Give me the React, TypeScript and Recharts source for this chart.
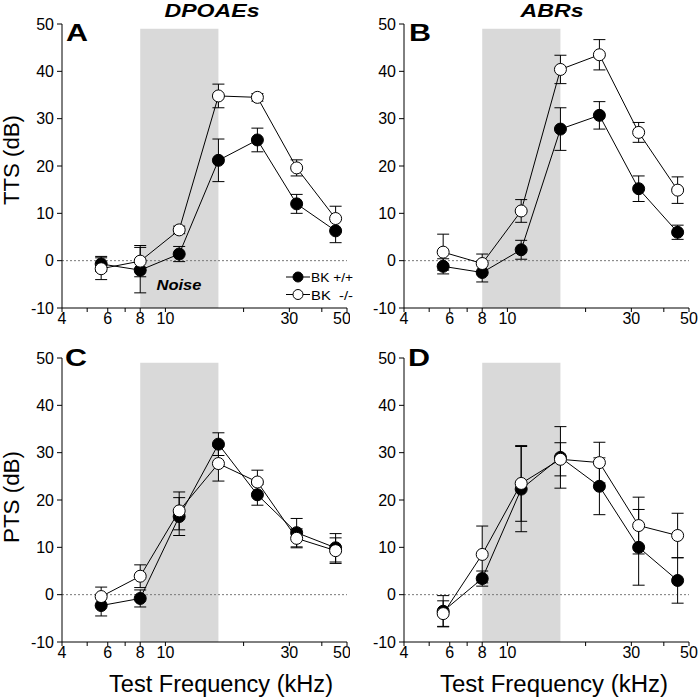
import React from 'react';
import { ComposedChart, Line, XAxis, YAxis, ReferenceArea, ReferenceLine, ErrorBar } from 'recharts';

// test frequencies (kHz), half-octave steps
const FREQ = [5.66, 8, 11.3, 16, 22.6, 32, 45.2];

// A: DPOAE TTS
const A_WT = [-0.7, -2.0, 1.4, 21.2, 25.5, 12.0, 6.3];
const A_WT_ERR = [1.6, 4.8, 1.6, 4.5, 2.5, 2.0, 2.5];
const A_KO = [-1.7, -0.1, 6.5, 34.8, 34.5, 19.6, 8.9];
const A_KO_ERR = [2.3, 3.3, 0.8, 2.5, 0.8, 1.7, 2.6];

// B: ABR TTS
const B_WT = [-1.2, -2.5, 2.3, 27.8, 30.7, 15.2, 6.0];
const B_WT_ERR = [1.6, 2.0, 2.0, 4.5, 2.9, 2.7, 1.5];
const B_KO = [1.8, -0.6, 10.5, 40.4, 43.5, 27.1, 14.9];
const B_KO_ERR = [3.8, 2.0, 2.4, 3.0, 3.2, 2.1, 2.8];

// C: DPOAE PTS
const C_WT = [-2.3, -0.8, 16.5, 31.8, 21.1, 13.1, 9.9];
const C_WT_ERR = [2.2, 1.8, 4.0, 2.4, 2.2, 3.0, 3.0];
const C_KO = [-0.4, 3.9, 17.7, 27.7, 23.8, 11.9, 9.3];
const C_KO_ERR = [2.0, 2.4, 4.0, 3.7, 2.5, 2.0, 2.7];

// D: ABR PTS
const D_WT = [-3.5, 3.4, 22.3, 29.0, 22.9, 10.0, 3.0];
const D_WT_ERR = [3.3, 1.6, 9.0, 6.5, 6.0, 8.0, 4.8];
const D_KO = [-4.0, 8.5, 23.5, 28.6, 27.9, 14.6, 12.5];
const D_KO_ERR = [2.7, 6.0, 8.0, 3.5, 4.3, 6.0, 4.7];

const X_TICKS = [4, 5, 6, 7, 8, 9, 10, 20, 30, 40, 50];
const X_LABELED = [4, 6, 8, 10, 30, 50];
const Y_TICKS = [-10, 0, 10, 20, 30, 40, 50];
const NOISE_BAND = [8, 16];
const LEGEND = ['BK +/+', 'BK  -/-'];

const FONT = '"Liberation Sans", Arial, sans-serif';

type PanelProps = {
  left: number;
  top: number;
  marginLeft: number;
  wt: number[];
  wtErr: number[];
  ko: number[];
  koErr: number[];
};

function Panel({ left, top, marginLeft, wt, wtErr, ko, koErr }: PanelProps) {
  const data = FREQ.map((f, i) => ({ f, wt: wt[i], wtErr: wtErr[i], ko: ko[i], koErr: koErr[i] }));
  return (
    <div style={{ position: 'absolute', left, top }}>
      <ComposedChart width={350} height={340} data={data}
        margin={{ top: 24, right: 350 - 285 - marginLeft - 40, bottom: 0, left: marginLeft }}>
        <ReferenceArea x1={NOISE_BAND[0]} x2={NOISE_BAND[1]} y1={-10} y2={49} fill="#d9d9d9" fillOpacity={1} stroke="none" />
        <ReferenceLine y={0} stroke="#777" strokeDasharray="2 2" strokeWidth={1} />
        <XAxis dataKey="f" type="number" scale="log" domain={[4, 50]} allowDataOverflow ticks={X_TICKS}
          tickFormatter={(v: number) => (X_LABELED.includes(v) ? String(v) : '')}
          height={32} tickSize={4} tickMargin={1} stroke="#000"
          tick={{ fill: '#000', fontSize: 16, fontFamily: FONT }} />
        <YAxis type="number" domain={[-10, 50]} ticks={Y_TICKS} width={40} tickSize={5} tickMargin={3}
          stroke="#000" tick={{ fill: '#000', fontSize: 16, fontFamily: FONT }} />
        <Line dataKey="wt" stroke="#000" strokeWidth={1} isAnimationActive={false}
          dot={{ r: 6, fill: '#000', stroke: '#000', strokeWidth: 1 }}>
          <ErrorBar dataKey="wtErr" width={6} stroke="#000" strokeWidth={1} direction="y" />
        </Line>
        <Line dataKey="ko" stroke="#000" strokeWidth={1} isAnimationActive={false}
          dot={{ r: 6, fill: '#fff', stroke: '#000', strokeWidth: 1 }}>
          <ErrorBar dataKey="koErr" width={6} stroke="#000" strokeWidth={1} direction="y" />
        </Line>
      </ComposedChart>
    </div>
  );
}

function Overlay() {
  const t = { fontFamily: FONT, fill: '#000' };
  return (
    <svg width={700} height={697} style={{ position: 'absolute', left: 0, top: 0, pointerEvents: 'none' }}>
      {/* panel titles */}
      <text {...t} x={212} y={17} fontSize={19} fontWeight="bold" fontStyle="italic" textAnchor="middle" textLength={95} lengthAdjust="spacingAndGlyphs">DPOAEs</text>
      <text {...t} x={552} y={17} fontSize={19} fontWeight="bold" fontStyle="italic" textAnchor="middle" textLength={63} lengthAdjust="spacingAndGlyphs">ABRs</text>

      {/* panel letters */}
      <text {...t} x={66} y={41} fontSize={24} fontWeight="bold" textLength={22} lengthAdjust="spacingAndGlyphs">A</text>
      <text {...t} x={409} y={41} fontSize={24} fontWeight="bold" textLength={22} lengthAdjust="spacingAndGlyphs">B</text>
      <text {...t} x={65} y={366} fontSize={24} fontWeight="bold" textLength={22} lengthAdjust="spacingAndGlyphs">C</text>
      <text {...t} x={408} y={366} fontSize={24} fontWeight="bold" textLength={22} lengthAdjust="spacingAndGlyphs">D</text>

      {/* axis titles */}
      <text {...t} x={19} y={160} fontSize={22} textAnchor="middle" transform="rotate(-90, 19, 160)" textLength={90} lengthAdjust="spacingAndGlyphs">TTS (dB)</text>
      <text {...t} x={19} y={497} fontSize={22} textAnchor="middle" transform="rotate(-90, 19, 497)" textLength={92} lengthAdjust="spacingAndGlyphs">PTS (dB)</text>
      <text {...t} x={221} y={692} fontSize={23} textAnchor="middle" textLength={224} lengthAdjust="spacingAndGlyphs">Test Frequency (kHz)</text>
      <text {...t} x={554} y={692} fontSize={23} textAnchor="middle" textLength={228} lengthAdjust="spacingAndGlyphs">Test Frequency (kHz)</text>

      {/* noise band label */}
      <text {...t} x={179} y={290} fontSize={15} fontWeight="bold" fontStyle="italic" textAnchor="middle" textLength={45} lengthAdjust="spacingAndGlyphs">Noise</text>

      {/* legend */}
      {LEGEND.map((label, i) => {
        const y = 277 + i * 17.5;
        return (
          <g key={label}>
            <line x1={286} y1={y} x2={310} y2={y} stroke="#000" strokeWidth={1} />
            <circle cx={298} cy={y} r={5} fill={i === 0 ? '#000' : '#fff'} stroke="#000" strokeWidth={1} />
            <text {...t} x={311} y={y + 5} fontSize={13.5} style={{ whiteSpace: 'pre' }} textLength={42} lengthAdjust="spacingAndGlyphs">{label}</text>
          </g>
        );
      })}
    </svg>
  );
}

export default function App() {
  return (
    <div style={{ position: 'absolute', left: 0, top: 0, width: 700, height: 697, background: '#fff' }}>
      <Panel left={0} top={0} marginLeft={22} wt={A_WT} wtErr={A_WT_ERR} ko={A_KO} koErr={A_KO_ERR} />
      <Panel left={350} top={0} marginLeft={14} wt={B_WT} wtErr={B_WT_ERR} ko={B_KO} koErr={B_KO_ERR} />
      <Panel left={0} top={334} marginLeft={22} wt={C_WT} wtErr={C_WT_ERR} ko={C_KO} koErr={C_KO_ERR} />
      <Panel left={350} top={334} marginLeft={14} wt={D_WT} wtErr={D_WT_ERR} ko={D_KO} koErr={D_KO_ERR} />
      <Overlay />
    </div>
  );
}
